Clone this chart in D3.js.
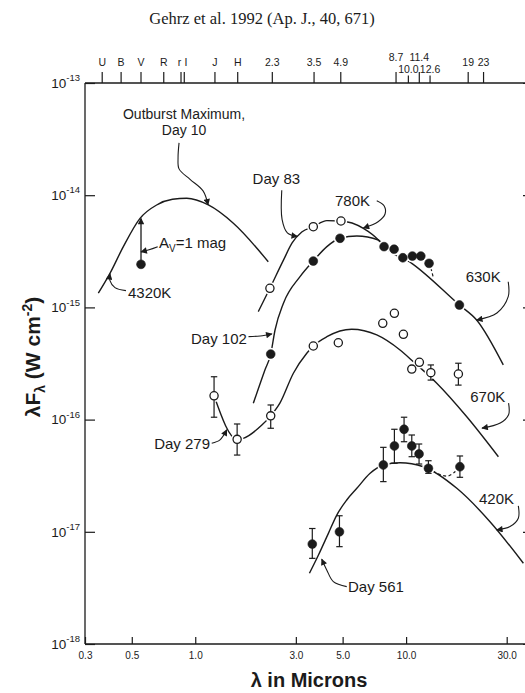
<!DOCTYPE html>
<html>
<head>
<meta charset="utf-8">
<script src="https://cdn.jsdelivr.net/npm/d3@7"></script>
<style>
  body { margin: 0; background: #fff; }
  svg { display: block; }
</style>
</head>
<body>
<svg id="chart" width="525" height="693"></svg>
<script>
// ---------- data: wavelength (microns), lambda*F_lambda (W cm^-2) ----------

// photometric band markers along the top edge
const bandWl    = [0.362, 0.445, 0.553, 0.709, 0.856, 0.887, 1.24, 1.59, 2.32, 3.66, 4.90, 8.96, 10.25, 11.55, 12.99, 19.7, 23.3];
const bandLabel = ["U", "B", "V", "R", "r", "I", "J", "H", "2.3", "3.5", "4.9", "8.7", "10.0", "11.4", "12.6", "19", "23"];

// axis ticks
const xTickVals  = [0.3, 0.5, 1, 3, 5, 10, 30];
const xTickLabel = ["0.3", "0.5", "1.0", "3.0", "5.0", "10.0", "30.0"];
const yDecades   = [1e-13, 1e-14, 1e-15, 1e-16, 1e-17, 1e-18];
const yExponent  = ["-13", "-14", "-15", "-16", "-17", "-18"];

// Day 10 (outburst maximum) and the 4320K photosphere
const day10Points = [[0.553, 2.42e-15]];
const day10Dereddened = 6.2e-15;            // A_V = 1 mag correction at V
const curve4320K = [[0.347,1.34e-15],[0.394,2.01e-15],[0.456,3.48e-15],[0.547,6.22e-15],[0.656,8.18e-15],
                    [0.78,9.19e-15],[0.911,9.38e-15],[1.154,8.18e-15],[1.516,5.62e-15],[2.22,2.55e-15]];

// Day 83 (open) with 780K fit
const day83Points = [[2.26,1.48e-15],[3.63,5.24e-15],[4.91,5.89e-15]];
const curve780K = [[1.99,9.16e-16],[2.26,1.48e-15],[2.62,2.64e-15],[2.88,3.75e-15],[3.2,4.7e-15],[3.63,5.24e-15],
                   [4.21,5.93e-15],[4.91,5.89e-15],[6.27,5.07e-15],[7.39,3.99e-15],[7.86,3.48e-15]];

// Day 102 (filled) with 630K fit
const day102Points = [[2.28,3.84e-16],[3.63,2.59e-15],[4.86,4.13e-15],[7.86,3.48e-15],[8.77,3.30e-15],[9.65,2.77e-15],
                      [10.71,2.87e-15],[11.74,2.87e-15],[12.85,2.47e-15],[17.9,1.05e-15]];
const curve630K = [[1.886,1.40e-16],[2.14,2.77e-16],[2.28,3.84e-16],[2.39,6.29e-16],[2.62,1.09e-15],[3.14,1.88e-15],
                   [3.63,2.59e-15],[4.21,3.48e-15],[4.86,4.13e-15],[5.84,4.33e-15],[7.39,3.99e-15],[7.86,3.48e-15],
                   [10.64,2.47e-15],[17.9,1.05e-15],[21.6,7.72e-16],[28.9,3.07e-16]];
const day102Excess = [[11.74,2.87e-15],[12.85,2.47e-15],[13.45,1.85e-15]];

// Day 279 (open) with 670K fit; [lambda, flux, low, high]
const day279Points = [[1.228,1.63e-16,1.05e-16,2.41e-16],[1.58,6.67e-17,4.83e-17,9.14e-17],[2.28,1.08e-16,8.37e-17,1.35e-16],
                      [3.63,4.53e-16],[4.77,4.84e-16],[7.75,7.22e-16],[8.80,8.86e-16],[9.71,5.76e-16],
                      [10.64,2.82e-16],[11.56,3.24e-16],[13.1,2.62e-16,2.25e-16,3.07e-16],[17.7,2.55e-16,2.03e-16,3.18e-16]];
const curve670K = [[1.228,1.63e-16],[1.58,6.67e-17],[1.69,6.81e-17],[2.07,8.95e-17],[2.28,1.08e-16],[2.52,1.40e-16],
                   [2.92,2.59e-16],[3.38,3.90e-16],[3.63,4.53e-16],[4.21,5.48e-16],[5.52,6.38e-16],[7.26,5.68e-16],
                   [9.36,4.17e-16],[10.83,3.28e-16],[13.98,2.11e-16],[19.4,1.06e-16],[27.4,4.67e-17]];

// Day 561 (filled) with 420K fit
const day561Points = [[3.59,7.78e-18,5.80e-18,1.07e-17],[4.83,1.00e-17,7.37e-18,1.39e-17],[7.80,3.94e-17,2.80e-17,5.66e-17],
                      [8.80,5.82e-17,4.08e-17,8.20e-17],[9.78,8.20e-17,6.35e-17,1.05e-16],[10.64,5.82e-17,4.67e-17,7.29e-17],
                      [11.52,4.94e-17,4.02e-17,6.06e-17],[12.76,3.68e-17,3.32e-17,4.30e-17],[18.0,3.80e-17,3.06e-17,4.74e-17]];
const curve420K = [[3.48,4.27e-18],[3.84,6.21e-18],[4.28,9.69e-18],[4.69,1.41e-17],[5.23,1.92e-17],[5.84,2.44e-17],
                   [6.75,3.32e-17],[7.80,3.94e-17],[9.36,4.13e-17],[12.08,3.80e-17],[17.4,2.44e-17],[25.0,1.23e-17],[36.0,5.24e-18]];
const day561Excess = [[12.76,3.68e-17],[15.6,3.14e-17],[18.0,3.80e-17]];

// ---------- drawing ----------
const svg = d3.select("#chart");
const ink = "#1b1b1b";
const sans = "'Liberation Sans', Arial, Helvetica, sans-serif";

const x = d3.scaleLog().domain([0.3, 30]).range([85, 506.7]);
const y = d3.scaleLog().domain([1e-18, 1e-13]).range([644, 83]);
const [yTop, yBot] = [y(1e-13), y(1e-18)];
const xLeft = x(0.3);

// title
svg.append("text")
  .attr("x", 262).attr("y", 24)
  .attr("text-anchor", "middle")
  .attr("font-family", "'Liberation Serif', 'Times New Roman', serif")
  .attr("font-size", 16.5).attr("fill", ink)
  .text("Gehrz et al. 1992 (Ap. J., 40, 671)");

// frame lines
const frame = svg.append("g").attr("stroke", ink).attr("stroke-width", 1.3);
frame.append("line").attr("x1", xLeft).attr("x2", xLeft).attr("y1", yTop).attr("y2", yBot);
frame.append("line").attr("x1", xLeft).attr("x2", 540).attr("y1", yTop).attr("y2", yTop);
frame.append("line").attr("x1", xLeft).attr("x2", 540).attr("y1", yBot).attr("y2", yBot);

// bottom axis
const gx = svg.append("g").attr("transform", `translate(0,${yBot})`)
  .call(d3.axisBottom(x).tickValues(xTickVals).tickFormat((d, i) => xTickLabel[i])
        .tickSize(-7).tickSizeOuter(0).tickPadding(8));
gx.select(".domain").remove();
gx.selectAll(".tick line").attr("stroke", ink).attr("stroke-width", 1.2);
gx.selectAll(".tick text").attr("font-family", sans).attr("font-size", 10).attr("fill", ink);

// left axis with power-of-ten labels
const gy = svg.append("g").attr("transform", `translate(${xLeft},0)`)
  .call(d3.axisLeft(y).tickValues(yDecades).tickFormat(() => "")
        .tickSize(-10).tickSizeOuter(0).tickPadding(5));
gy.select(".domain").remove();
gy.selectAll(".tick line").attr("stroke", ink).attr("stroke-width", 1.2);
gy.selectAll(".tick text").each(function (d, i) {
  const t = d3.select(this).attr("font-family", sans).attr("fill", ink).attr("dy", "0.42em");
  t.append("tspan").attr("font-size", 13.5).text("10");
  t.append("tspan").attr("font-size", 9.5).attr("dy", -6.5).text(yExponent[i]);
});

// right axis (edge)
const gr = svg.append("g").attr("transform", "translate(533,0)")
  .call(d3.axisRight(y).tickValues(yDecades).tickFormat(() => "").tickSize(-10).tickSizeOuter(0));
gr.select(".domain").attr("stroke", ink);
gr.selectAll(".tick line").attr("stroke", ink).attr("stroke-width", 1.2);

// top band markers
const raised = new Set(["8.7", "11.4"]);
const lowered = new Set(["10.0", "12.6"]);
const nudge = { "r": -1.6, "I": 1.6 };
const gb = svg.append("g");
gb.selectAll("line").data(bandWl).join("line")
  .attr("x1", d => x(d)).attr("x2", d => x(d))
  .attr("y1", yTop).attr("y2", (d, i) => yTop - (lowered.has(bandLabel[i]) ? 7.5 : 11))
  .attr("stroke", ink).attr("stroke-width", 1.2);
gb.selectAll("text").data(bandWl).join("text")
  .attr("x", (d, i) => x(d) + (nudge[bandLabel[i]] || 0))
  .attr("y", (d, i) => raised.has(bandLabel[i]) ? 60.5 : lowered.has(bandLabel[i]) ? 72.5 : 65.5)
  .attr("text-anchor", "middle")
  .attr("font-family", sans).attr("font-size", 10.5).attr("fill", ink)
  .text((d, i) => bandLabel[i]);

// axis titles
svg.append("text")
  .attr("x", 309).attr("y", 687)
  .attr("text-anchor", "middle")
  .attr("font-family", sans).attr("font-weight", "bold").attr("font-size", 20).attr("fill", ink)
  .text("\u03bb in Microns");

const yl = svg.append("text")
  .attr("transform", "translate(40,357) rotate(-90)")
  .attr("text-anchor", "middle")
  .attr("font-family", sans).attr("font-weight", "bold").attr("font-size", 21).attr("fill", ink);
yl.append("tspan").text("\u03bbF");
yl.append("tspan").attr("font-size", 14).attr("dy", 5).text("\u03bb");
yl.append("tspan").attr("dy", -5).text(" (W cm");
yl.append("tspan").attr("font-size", 14).attr("dy", -8).text("-2");
yl.append("tspan").attr("dy", 8).text(")");

// curves
const line = d3.line().x(d => x(d[0])).y(d => y(d[1])).curve(d3.curveMonotoneX);
const curves = svg.append("g").attr("fill", "none").attr("stroke", ink).attr("stroke-width", 1.4);
[curve4320K, curve780K, curve630K, curve670K, curve420K].forEach(c => curves.append("path").attr("d", line(c)));
[day102Excess, day561Excess].forEach(c =>
  curves.append("path").attr("d", line(c)).attr("stroke-dasharray", "3,2.5").attr("stroke-width", 1.2));

// white halos so the curves break at the symbols
const allPoints = [day10Points, day83Points, day102Points, day279Points, day561Points].flat();
svg.append("g").selectAll("circle").data(allPoints).join("circle")
  .attr("cx", d => x(d[0])).attr("cy", d => y(d[1])).attr("r", 6.3).attr("fill", "#fff");

// error bars
const withErr = [...day279Points, ...day561Points].filter(d => d.length === 4);
const eb = svg.append("g").attr("stroke", ink).attr("stroke-width", 1.2);
withErr.forEach(d => {
  const cx = x(d[0]);
  eb.append("line").attr("x1", cx).attr("x2", cx).attr("y1", y(d[2])).attr("y2", y(d[3]));
  eb.append("line").attr("x1", cx - 3.2).attr("x2", cx + 3.2).attr("y1", y(d[2])).attr("y2", y(d[2]));
  eb.append("line").attr("x1", cx - 3.2).attr("x2", cx + 3.2).attr("y1", y(d[3])).attr("y2", y(d[3]));
});

// symbols
function dots(data, open) {
  svg.append("g").selectAll("circle").data(data).join("circle")
    .attr("cx", d => x(d[0])).attr("cy", d => y(d[1]))
    .attr("r", open ? 4.1 : 4.4)
    .attr("fill", open ? "#fff" : ink)
    .attr("stroke", ink).attr("stroke-width", open ? 1.3 : 0.6);
}
dots(day10Points, false);
dots(day83Points, true);
dots(day102Points, false);
dots(day279Points, true);
dots(day561Points, false);

// arrowhead
svg.append("defs").append("marker")
  .attr("id", "head").attr("viewBox", "0 0 10 10")
  .attr("refX", 9).attr("refY", 5)
  .attr("markerUnits", "userSpaceOnUse")
  .attr("markerWidth", 8).attr("markerHeight", 6.5)
  .attr("orient", "auto")
  .append("path").attr("d", "M0,0 L10,5 L0,10 z").attr("fill", ink);

// A_V = 1 mag reddening correction at V
svg.append("line")
  .attr("x1", x(day10Points[0][0])).attr("x2", x(day10Points[0][0]))
  .attr("y1", y(day10Points[0][1]) - 4).attr("y2", y(day10Dereddened))
  .attr("stroke", ink).attr("stroke-width", 1.3).attr("marker-end", "url(#head)");

// labels with curved leaders (offsets in px from the arrow tip)
const notes = [
  { lines: ["Outburst Maximum,", "Day 10"], tip: [1.15, 8.2e-15], anchor: "middle", at: [-24, -91], size: 14, gap: 16.5,
    lead: [[-29, -62], [-30, -47], [-29, -36], [-18, -25.5], [-5, -14]] },
  { lines: ["Day 83"], tip: [3.05, 4.3e-15], anchor: "middle", at: [-21, -57.3],
    lead: [[-15.6, -46], [-15.3, -17], [-10, -3.5]] },
  { lines: ["780K"], tip: [6.27, 5.1e-15], anchor: "end", at: [6.7, -27.3],
    lead: [[13.4, -27.3], [20.7, -22.3], [21.7, -14], [14.7, -6.3]] },
  { lines: ["630K"], tip: [21.6, 7.72e-16], anchor: "middle", at: [6.6, -43.3],
    lead: [[31.6, -38.3], [31.6, -23.3], [20.3, -7]] },
  { lines: ["Day 102"], tip: [2.31, 5.8e-16], anchor: "end", at: [-25, 5],
    lead: [[-23.4, 2.7], [-11.7, 2]] },
  { lines: ["Day 279"], tip: [1.41, 8.1e-17], anchor: "end", at: [-16.7, 13.3],
    lead: [[-15, 13.3], [-6.7, 10]] },
  { lines: ["670K"], tip: [22.9, 8.4e-17], anchor: "middle", at: [5.8, -31.6],
    lead: [[26.6, -25], [26.6, -13.3], [18.3, -5]] },
  { lines: ["420K"], tip: [26.9, 1.04e-17], anchor: "middle", at: [-0.2, -31.7],
    lead: [[21.6, -24], [21.6, -11.7], [13.3, -3.3]] },
  { lines: ["Day 561"], tip: [3.98, 5.7e-18], anchor: "start", at: [26.3, 27.4],
    lead: [[25, 27.4], [11.6, 22.4], [5, 10.7]] },
  { lines: ["4320K"], tip: [0.394, 2.0e-15], anchor: "start", at: [18, 18.7],
    lead: [[16, 17], [5, 14], [0, 7]] }
];
const leader = d3.line().curve(d3.curveCatmullRom.alpha(0.5));
const gn = svg.append("g");
notes.forEach(n => {
  const tx = x(n.tip[0]), ty = y(n.tip[1]);
  const size = n.size || 15, gap = n.gap || 15;
  const pts = n.lead.map(p => [tx + p[0], ty + p[1]]).concat([[tx, ty]]);
  gn.append("path").attr("d", leader(pts)).attr("fill", "none")
    .attr("stroke", ink).attr("stroke-width", 1.1).attr("marker-end", "url(#head)");
  n.lines.forEach((s, k) => {
    gn.append("text")
      .attr("x", tx + n.at[0]).attr("y", ty + n.at[1] + size * 0.36 + k * gap)
      .attr("text-anchor", n.anchor)
      .attr("font-family", sans).attr("font-size", size).attr("fill", ink)
      .text(s);
  });
});

// A_V label
const avTip = [x(day10Points[0][0]), y(3.12e-15)];
gn.append("path")
  .attr("d", leader([[avTip[0] + 16.7, avTip[1] - 5.3], [avTip[0] + 8, avTip[1] - 2.2], avTip]))
  .attr("fill", "none").attr("stroke", ink).attr("stroke-width", 1.1).attr("marker-end", "url(#head)");
const av = gn.append("text")
  .attr("x", avTip[0] + 18).attr("y", avTip[1] - 9.3 + 5.4)
  .attr("font-family", sans).attr("font-size", 15).attr("fill", ink);
av.append("tspan").text("A");
av.append("tspan").attr("font-size", 10).attr("dy", 4).text("V");
av.append("tspan").attr("dy", -4).text("=1 mag");
</script>
</body>
</html>
